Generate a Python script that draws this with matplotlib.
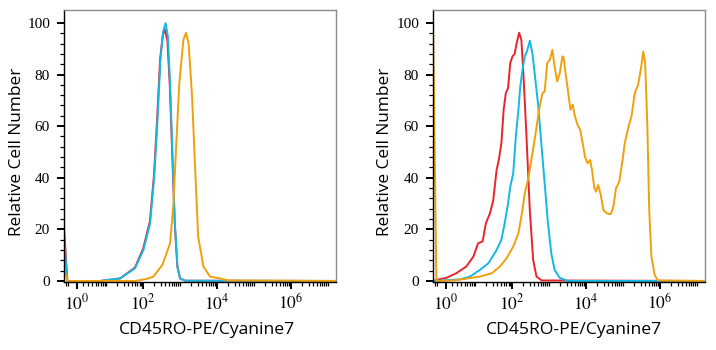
import numpy as np
import matplotlib
matplotlib.use("Agg")
import matplotlib.pyplot as plt
from matplotlib.ticker import FixedLocator, FixedFormatter, NullFormatter

plt.rcParams['mathtext.fontset'] = 'stix'

# ---------------- data (intensity, relative cell number) ----------------
xlabel_text = "CD45RO-PE/Cyanine7"
ylabel_text = "Relative Cell Number"
major_ticks = [1, 1e2, 1e4, 1e6]
major_labels = [r'$10^{0}$', r'$10^{2}$', r'$10^{4}$', r'$10^{6}$']
y_ticks = [0, 20, 40, 60, 80, 100]

# left panel
L_red_x = [-0.66, -0.23, 6.8, 24, 60, 100, 152, 197, 240, 288, 340, 390, 455, 530, 625, 720, 845, 1000, 1380, 1.5e7]
L_red_y = [21, 0, 0, 1.0, 5.2, 12.5, 23, 41, 63, 86, 95, 97.5, 93, 75, 46, 22, 5.5, 1.0, 0.1, 0]
L_cyan_x = [-0.66, -0.23, 6.8, 24, 60, 102, 155, 200, 245, 295, 347, 407, 468, 537, 631, 724, 851, 1000, 1380, 1.5e7]
L_cyan_y = [17, 0, 0, 1.0, 4.9, 12, 22.4, 40.4, 62.4, 85.7, 96.6, 99.9, 94.7, 76.6, 46.9, 22.4, 5.6, 1.0, 0.1, 0]
L_orange_x = [-0.66, -0.23, 60, 126, 190, 331, 537, 661, 776, 955, 1230, 1445, 1700, 2090, 2570, 3090, 4270, 6460, 12000, 20000, 1.5e7]
L_orange_y = [5, 0, 0, 0.8, 1.7, 6.2, 14.6, 30, 50.8, 76.6, 93.4, 96.2, 92.1, 72.7, 43, 17.2, 5.6, 1.7, 1.0, 0.2, 0]

# right panel
R_red_x = [-0.66, -0.23, 1.06, 2.77, 5.58, 8.8, 11.9, 15.8, 19.5, 25.1, 30.9, 38, 43.6, 51.3, 58.9, 67.6, 77.6, 89.1,
           102, 117, 132, 155, 178, 204, 245, 302, 372, 457, 631, 1.5e7]
R_red_y = [0, 0.4, 1.2, 3, 5.6, 9.4, 14.6, 15.3, 22.4, 26.2, 31.3, 43, 46.9, 53.4, 66.3, 72.8, 74.7, 84.4,
           87, 88, 92, 96.2, 93.4, 79.2, 55.9, 27.1, 8.1, 1.7, 0.2, 0]
R_cyan_x = [-0.66, 0.61, 3.64, 7.1, 13.4, 22.9, 38, 51.3, 63, 77.6, 89.1, 107, 126, 148, 166, 191, 219, 251,
            302, 355, 407, 501, 617, 759, 933, 1150, 1410, 1950, 3240, 1.5e7]
R_cyan_y = [0, 0.2, 0.6, 1.7, 4.3, 6.9, 12, 16, 22.4, 30, 36.5, 41.6, 55.9, 66.3, 75.3, 81.8, 87, 88.9,
            93.1, 88.2, 80.5, 68.9, 53.4, 37.9, 22.4, 10.7, 4.3, 1.2, 0, 0]
R_orange_x = [-0.66, -0.23, 2.18, 5.58, 13.4, 28.2, 46.8, 70.8, 107, 148, 191, 219, 269, 331, 407, 537, 661, 759,
              891, 1050, 1230, 1410, 1660, 1950, 2290, 2450, 2880, 3310, 3800, 4370, 5010, 5890, 6920, 8130,
              9330, 11000, 12900, 14500, 16600, 18600, 21400, 25100, 29500, 36300, 46800, 55000, 64600, 79400,
              97700, 112000, 138000, 170000, 209000, 257000, 302000, 355000, 398000, 457000, 513000, 589000,
              724000, 891000, 1.5e7]
R_orange_y = [101, 0, 0.2, 0.9, 1.7, 3, 5.6, 8.8, 13.3, 18.5, 27.5, 33.9, 39.1, 46.9, 54.7, 66.3, 72.8, 73.4,
              84.4, 85.7, 89.6, 83.1, 77.3, 80.5, 87, 86.9, 79.2, 72.8, 66.3, 68.3, 63.8, 60.5, 58.6, 53.4,
              48.2, 45.6, 46.9, 43, 36.5, 34.6, 37.2, 33.3, 27.5, 26.2, 25.9, 28.8, 35.9, 38.5,
              46.9, 53.4, 59.2, 63.8, 72.8, 76, 81.8, 88.9, 84.4, 59.9, 27.5, 9.4,
              2.2, 0.2, 0]

RED = '#e8242c'
CYAN = '#14b8e6'
ORANGE = '#f29f0c'

def fwd(x):
    return np.arcsinh(np.asarray(x, dtype=float) / 2.0) / np.log(10)

def inv(y):
    return 2.0 * np.sinh(np.asarray(y, dtype=float) * np.log(10))

fig = plt.figure(figsize=(7.16, 3.5), dpi=100)
W, H = 716, 350
axL = fig.add_axes([64 / W, 1 - 282 / H, 272 / W, 272 / H])
axR = fig.add_axes([433 / W, 1 - 282 / H, 272 / W, 272 / H])

minor = []
for k in range(0, 8):
    for m in range(1, 10):
        v = m * 10.0 ** k
        if v not in major_ticks:
            minor.append(v)
minor += [-0.4, -0.2]

panels = [
    (axL, [(L_red_x, L_red_y, RED), (L_cyan_x, L_cyan_y, CYAN), (L_orange_x, L_orange_y, ORANGE)], 0.526, -0.173),
    (axR, [(R_red_x, R_red_y, RED), (R_cyan_x, R_cyan_y, CYAN), (R_orange_x, R_orange_y, ORANGE)], 0.518, -0.176),
]

for ax, series, xlx, ylx in panels:
    ax.set_xscale('function', functions=(fwd, inv))
    for xs, ys, c in series:
        ax.plot(xs, ys, color=c, lw=1.4, solid_joinstyle='round')
    ax.set_xlim(-0.66, 10 ** 7.22)
    ax.set_ylim(-0.4, 105)
    ax.xaxis.set_major_locator(FixedLocator(major_ticks))
    ax.xaxis.set_major_formatter(FixedFormatter(major_labels))
    ax.xaxis.set_minor_locator(FixedLocator(minor))
    ax.xaxis.set_minor_formatter(NullFormatter())
    ax.yaxis.set_major_locator(FixedLocator(y_ticks))
    ax.yaxis.set_minor_locator(FixedLocator(list(range(0, 104, 4))))
    ax.tick_params(axis='both', which='major', direction='out', length=5, width=1.4, color='black')
    ax.tick_params(axis='both', which='minor', direction='out', length=3, width=0.9, color='black')
    ax.tick_params(axis='y', which='major', pad=5)
    ax.tick_params(axis='x', which='major', pad=3)
    for lab in ax.get_yticklabels():
        lab.set_fontfamily('Liberation Serif')
        lab.set_fontsize(11)
    for lab in ax.get_xticklabels():
        lab.set_fontsize(12.5)
    for s in ('top', 'right'):
        ax.spines[s].set_color('#8a8a8a')
        ax.spines[s].set_linewidth(1.0)
    for s in ('left', 'bottom'):
        ax.spines[s].set_color('black')
        ax.spines[s].set_linewidth(1.0)
    ax.set_xlabel(xlabel_text, fontsize=12.6, family='Open Sans')
    ax.set_ylabel(ylabel_text, fontsize=12.4, family='Open Sans')
    ax.xaxis.set_label_coords(xlx, -0.176)
    ax.xaxis.label.set_va('center')
    ax.yaxis.set_label_coords(ylx, 0.48)
    ax.yaxis.label.set_va('center')

fig.savefig('out.png', dpi=100, facecolor='white')
